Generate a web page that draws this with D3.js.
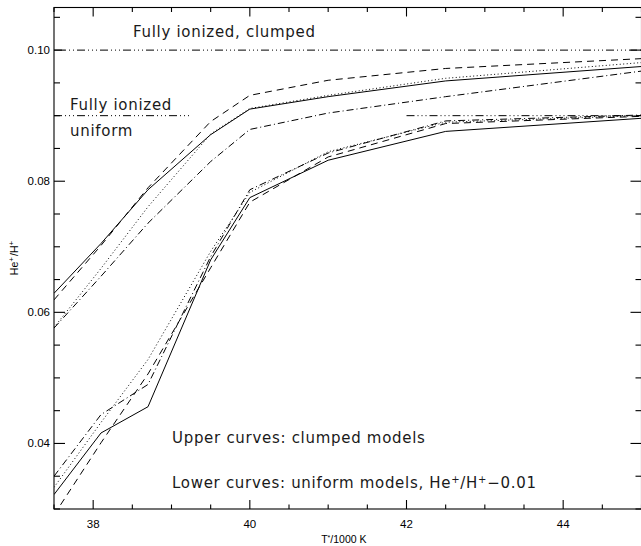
<!DOCTYPE html>
<html>
<head>
<meta charset="utf-8">
<script src="https://cdn.jsdelivr.net/npm/d3@7"></script>
<style>
  html, body { margin: 0; padding: 0; background: #fff; }
  svg { display: block; }
  .tick-label { font-family: "Liberation Sans", Arial, sans-serif; font-size: 11.5px; fill: #000; }
  .axis-title { font-family: "Liberation Sans", Arial, sans-serif; font-size: 10.5px; fill: #000; }
  .note { font-family: "DejaVu Sans", sans-serif; font-size: 15px; letter-spacing: 0.7px; fill: #1a1a1a; }
</style>
</head>
<body>
<svg id="chart" width="641" height="546"></svg>
<script>
// Stellar effective temperature of the model grid (units of 1000 K)
const temperatures = [37.5, 38.1, 38.7, 39.5, 40, 41, 42.5, 45];

// Upper curves: clumped models, He+/H+
const clumpedSolid   = [0.0629, 0.0705, 0.0787, 0.0871, 0.0910, 0.0929, 0.0953, 0.0975];
const clumpedDashed  = [0.0619, 0.0702, 0.0790, 0.0891, 0.0931, 0.0954, 0.0972, 0.0987];
const clumpedDotted  = [0.0577, 0.0667, 0.0761, 0.0872, 0.0911, 0.0931, 0.0957, 0.0981];
const clumpedDashDot = [0.0576, 0.0655, 0.0736, 0.0830, 0.0879, 0.0904, 0.0929, 0.0968];

// Lower curves: uniform models, He+/H+ - 0.01
const uniformSolid   = [0.0322, 0.0416, 0.0456, 0.0680, 0.0775, 0.0832, 0.0876, 0.0896];
const uniformDashed  = [0.0291, 0.0401, 0.0506, 0.0668, 0.0768, 0.0837, 0.0888, 0.0899];
const uniformDotted  = [0.0333, 0.0432, 0.0528, 0.0693, 0.0783, 0.0845, 0.0890, 0.0900];
const uniformDashDot = [0.0350, 0.0444, 0.0490, 0.0685, 0.0787, 0.0843, 0.0892, 0.0901];

// Fully ionized reference levels (level, T start, T end)
const refLevels = [0.10, 0.09, 0.09];
const refStart  = [37.5, 37.5, 42.0];
const refEnd    = [45.0, 39.24, 45.0];

// Axis ticks
const xMajorTicks = [38, 40, 42, 44];
const yMajorTicks = [0.04, 0.06, 0.08, 0.10];

const DASH = {
  solid: null,
  dashed: "7,5",
  dotted: "1,2.5",
  dashdot: "7,3,1,3",
  dash3dot: "8,3,1,3,1,3,1,3"
};

const svg = d3.select("#chart");
const plotLeft = 54, plotRight = 641.5, plotTop = 7.5, plotBottom = 509;

const x = d3.scaleLinear().domain([37.5, 45]).range([plotLeft, plotRight]);
const y = d3.scaleLinear().domain([0.030, 0.1065]).range([plotBottom, plotTop]);

svg.append("defs").append("clipPath").attr("id", "plot-clip")
  .append("rect").attr("x", plotLeft).attr("y", plotTop)
  .attr("width", plotRight - plotLeft).attr("height", plotBottom - plotTop);

const plot = svg.append("g").attr("clip-path", "url(#plot-clip)");

const line = d3.line().x(d => x(d[0])).y(d => y(d[1]));

const series = [
  [clumpedSolid, "solid"], [clumpedDashed, "dashed"],
  [clumpedDotted, "dotted"], [clumpedDashDot, "dashdot"],
  [uniformSolid, "solid"], [uniformDashed, "dashed"],
  [uniformDotted, "dotted"], [uniformDashDot, "dashdot"]
];

series.forEach(([vals, style]) => {
  plot.append("path")
    .datum(temperatures.map((t, i) => [t, vals[i]]))
    .attr("d", line)
    .attr("fill", "none")
    .attr("stroke", "#000")
    .attr("stroke-width", 1)
    .attr("stroke-dasharray", DASH[style]);
});

// Fully ionized levels
refLevels.forEach((lv, i) => {
  plot.append("path")
    .datum([[refStart[i], lv], [refEnd[i], lv]])
    .attr("d", line)
    .attr("fill", "none")
    .attr("stroke", "#000")
    .attr("stroke-width", 1)
    .attr("stroke-dasharray", DASH.dash3dot);
});

// Frame with inward ticks on all four sides
const frame = svg.append("g").attr("stroke", "#000").attr("stroke-width", 1.1);
frame.append("rect").attr("x", plotLeft).attr("y", plotTop)
  .attr("width", plotRight - plotLeft).attr("height", plotBottom - plotTop).attr("fill", "none");

const xMinor = d3.range(37.5, 45.001, 0.5);
xMinor.forEach(t => {
  const major = xMajorTicks.some(m => Math.abs(m - t) < 1e-6);
  const len = major ? 9 : 4.5;
  frame.append("line").attr("x1", x(t)).attr("x2", x(t)).attr("y1", plotBottom).attr("y2", plotBottom - len);
  frame.append("line").attr("x1", x(t)).attr("x2", x(t)).attr("y1", plotTop).attr("y2", plotTop + len);
});

const yMinor = d3.range(0.030, 0.1066, 0.005);
yMinor.forEach(v => {
  const major = yMajorTicks.some(m => Math.abs(m - v) < 1e-6);
  const len = major ? 11 : 6;
  frame.append("line").attr("x1", plotLeft).attr("x2", plotLeft + len).attr("y1", y(v)).attr("y2", y(v));
  frame.append("line").attr("x1", plotRight).attr("x2", plotRight - len).attr("y1", y(v)).attr("y2", y(v));
});

// Tick labels
svg.append("g").selectAll("text").data(xMajorTicks).join("text")
  .attr("class", "tick-label")
  .attr("x", d => x(d)).attr("y", 528)
  .attr("text-anchor", "middle")
  .text(d => d3.format("d")(d));

svg.append("g").selectAll("text").data(yMajorTicks).join("text")
  .attr("class", "tick-label")
  .attr("x", 50).attr("y", d => y(d) + 4)
  .attr("text-anchor", "end")
  .text(d => d3.format(".2f")(d));

// Axis titles
const xt = svg.append("text").attr("class", "axis-title")
  .attr("x", x(41.2)).attr("y", 543).attr("text-anchor", "middle");
xt.append("tspan").text("T");
xt.append("tspan").attr("dy", -3).attr("font-size", "7px").text("*");
xt.append("tspan").attr("dy", 3).text("/1000 K");

const yt = svg.append("text").attr("class", "axis-title")
  .attr("transform", "translate(18,258) rotate(-90)")
  .attr("font-size", "11.5px")
  .attr("text-anchor", "middle");
yt.append("tspan").text("He");
yt.append("tspan").attr("dy", -4).attr("font-size", "8px").text("+");
yt.append("tspan").attr("dy", 4).attr("dx", 1).text("/H");
yt.append("tspan").attr("dy", -4).attr("font-size", "8px").text("+");

// Annotations
svg.append("text").attr("class", "note").attr("x", 133).attr("y", 37).text("Fully ionized, clumped");
svg.append("text").attr("class", "note").attr("x", 70).attr("y", 110).text("Fully ionized");
svg.append("text").attr("class", "note").attr("x", 70).attr("y", 136).text("uniform");
svg.append("text").attr("class", "note").attr("x", 172).attr("y", 443).text("Upper curves: clumped models");

const lower = svg.append("text").attr("class", "note").attr("x", 172).attr("y", 488);
lower.append("tspan").text("Lower curves: uniform models, He");
lower.append("tspan").attr("dy", -5).attr("font-size", "10px").text("+");
lower.append("tspan").attr("dy", 5).text("/H");
lower.append("tspan").attr("dy", -5).attr("font-size", "10px").text("+");
lower.append("tspan").attr("dy", 5).text("\u22120.01");
</script>
</body>
</html>
